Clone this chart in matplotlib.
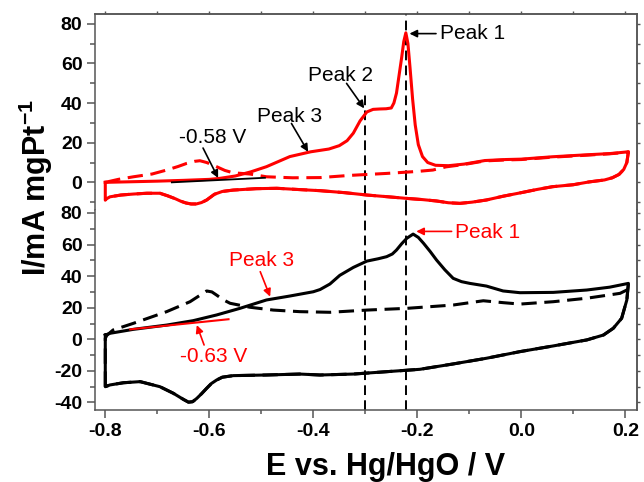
import numpy as np
import matplotlib
matplotlib.use('Agg')
import matplotlib.pyplot as plt
from matplotlib.ticker import MultipleLocator, NullFormatter

plt.rcParams['font.family'] = ['Liberation Sans', 'DejaVu Sans']
plt.rcParams['axes.unicode_minus'] = False
plt.rcParams['mathtext.fontset'] = 'custom'
plt.rcParams['mathtext.rm'] = 'Liberation Sans:bold'
plt.rcParams['mathtext.default'] = 'rm'

# ---- top panel (red): forward / reverse scans ----
top_fwd_E = [-0.8, -0.75, -0.7, -0.65, -0.6, -0.58, -0.55, -0.52, -0.49, -0.445, -0.405,
             -0.37, -0.35, -0.335, -0.323, -0.31, -0.297, -0.285, -0.272, -0.26, -0.25,
             -0.245, -0.24, -0.235, -0.23, -0.226, -0.222, -0.218, -0.214, -0.209, -0.204,
             -0.198, -0.19, -0.18, -0.165, -0.14, -0.11, -0.07, -0.03, 0.0, 0.06, 0.12,
             0.17, 0.206]
top_fwd_I = [0, 0.3, 0.6, 1.0, 1.5, 2.0, 3.2, 5.3, 7.9, 13, 15.4,
             16.8, 18.5, 21, 24.8, 31, 35.5, 36.8, 37.0, 37.1, 37.5,
             40, 45, 54, 63, 71, 75.4, 70, 58, 42, 29,
             19, 13, 10, 8.6, 8.4, 9.2, 11, 11.5, 11.7, 12.9, 13.8,
             14.5, 15.4]
top_rev_E = [0.206, 0.203, 0.197, 0.188, 0.175, 0.16, 0.13, 0.1, 0.06, 0.03, 0.0, -0.035,
             -0.067, -0.095, -0.118, -0.14, -0.163, -0.19, -0.22, -0.26, -0.297, -0.34,
             -0.387, -0.43, -0.47, -0.51, -0.554, -0.575, -0.59, -0.605, -0.615, -0.625,
             -0.635, -0.645, -0.655, -0.665, -0.68, -0.695, -0.72, -0.746, -0.77, -0.791,
             -0.799, -0.8]
top_rev_I = [15.4, 10, 6.5, 4, 2.3, 1.2, 0.2, -1.2, -2.2, -3.6, -5.2, -7,
             -8.9, -10, -10.6, -10.3, -9.4, -8.7, -8.1, -7.2, -6.4, -5.2,
             -4.2, -3.6, -3.0, -3.2, -3.9, -4.6, -6, -8.9, -10.2, -10.9,
             -10.9, -10.4, -9.5, -8.3, -6.8, -5.5, -5.5, -5.9, -6.4, -7.3,
             -8.5, -9]
top_dash_E = [-0.8, -0.775, -0.746, -0.71, -0.682, -0.66, -0.643, -0.628, -0.618, -0.605,
              -0.586, -0.57, -0.554, -0.522, -0.49, -0.44, -0.387, -0.33, -0.259, -0.2,
              -0.17, -0.145, -0.11, -0.07, -0.03, 0.0, 0.06, 0.12, 0.17, 0.206]
top_dash_I = [0, 1.5, 2.8, 4.2, 6.2, 8, 9.6, 10.6, 10.9, 10,
              7.9, 6, 4.8, 4.2, 2.8, 2.3, 2.4, 3.5, 4.5, 5.5,
              6.2, 7.8, 9.0, 10.8, 11.3, 11.5, 12.7, 13.6, 14.4, 15.2]

# ---- bottom panel (black) ----
bot_fwd_E = [-0.8, -0.791, -0.746, -0.682, -0.631, -0.586, -0.541, -0.49, -0.445, -0.4,
             -0.387, -0.368, -0.349, -0.323, -0.297, -0.275, -0.259, -0.248, -0.24, -0.23,
             -0.22, -0.208, -0.198, -0.188, -0.175, -0.163, -0.147, -0.131, -0.115, -0.099,
             -0.067, -0.035, -0.0025, 0.0615, 0.126, 0.17, 0.206]
bot_fwd_I = [2.7, 3.8, 6.3, 9, 11.8, 15.4, 19.6, 24.9, 27.4, 30.1,
             31.5, 35, 40.5, 45.5, 49.5, 51, 52.3, 54, 56.5, 60.5,
             64, 66.6, 64.5, 60.8, 55.5, 50.2, 44, 38.6, 36.5, 35.4,
             33.7, 30.6, 29.5, 29.7, 31.2, 33, 35.4]
bot_rev_E = [0.206, 0.203, 0.193, 0.177, 0.158, 0.126, 0.0615, -0.0025, -0.067, -0.131,
             -0.195, -0.259, -0.323, -0.387, -0.426, -0.49, -0.554, -0.575, -0.586, -0.596,
             -0.605, -0.615, -0.624, -0.632, -0.64, -0.65, -0.669, -0.695, -0.733, -0.765,
             -0.791, -0.8]
bot_rev_I = [35.4, 24.9, 13.3, 7, 2.7, -0.4, -4.2, -7.8, -12, -15.6,
             -19, -20.5, -22, -22.6, -22, -22.6, -23, -24, -25.8, -28,
             -31, -34.5, -37.4, -39.5, -39.8, -38, -34.2, -30, -26.8, -27.5,
             -28.9, -30]
bot_dash_E = [-0.8, -0.8, -0.797, -0.785, -0.746, -0.682, -0.637, -0.615, -0.605, -0.595,
              -0.586, -0.573, -0.56, -0.522, -0.477, -0.426, -0.368, -0.297, -0.22, -0.131,
              -0.073, -0.035, -0.0025, 0.0615, 0.126, 0.19, 0.206]
bot_dash_I = [-30, 0.6, 2.5, 5.9, 10.1, 17.5, 23.8, 28.5, 30.6, 30,
              28, 25, 22.8, 20.3, 18.5, 17.5, 17.1, 18.5, 19.6, 21.7,
              24.4, 23.2, 22.3, 23.8, 26, 29.1, 31.7]

peak_E = [-0.3, -0.222]          # vertical guide lines
peak2_top = 45                   # where the Peak 2 guide starts in the top panel

RED = '#ff0000'
SPINE = '#555555'
LW = 2.2
DASH = (5, 2.5)

fig = plt.figure(figsize=(6.44, 4.82), dpi=100)
ax_t = fig.add_axes([0.1475, 0.5643, 0.8416, 0.4067])
ax_b = fig.add_axes([0.1475, 0.1494, 0.8416, 0.4149])

XLIM = (-0.8198, 0.2225)

# top curves
ax_t.plot(top_fwd_E + top_rev_E + top_fwd_E[:1], top_fwd_I + top_rev_I + top_fwd_I[:1],
          color=RED, lw=LW, solid_joinstyle='round', zorder=3)
ax_t.plot(top_dash_E + top_rev_E, top_dash_I + top_rev_I, color=RED, lw=LW,
          ls=(0, DASH), zorder=3)
ax_t.plot([-0.672, -0.493], [0, 2.3], color='k', lw=1.3, zorder=4)

# bottom curves
ax_b.plot(bot_fwd_E + bot_rev_E + bot_fwd_E[:1], bot_fwd_I + bot_rev_I + bot_fwd_I[:1],
          color='k', lw=LW, solid_joinstyle='round', zorder=3)
ax_b.plot(bot_dash_E + bot_rev_E, bot_dash_I + bot_rev_I, color='k', lw=LW,
          ls=(0, DASH), zorder=3)
ax_b.plot([-0.752, -0.563], [6.3, 12.7], color=RED, lw=1.5, zorder=4)

# limits
ax_t.set_xlim(*XLIM)
ax_b.set_xlim(*XLIM)
ax_t.set_ylim(-13.95, 84.9)
ax_b.set_ylim(-44.75, 81.85)

# vertical guides
vl = dict(color='k', lw=1.4, ls=(0, (5, 2.7)), zorder=2)
ax_t.vlines(peak_E[1], -13.95, 84.9, **vl)
ax_t.vlines(peak_E[0], -13.95, peak2_top, **vl)
ax_b.vlines(peak_E, -44.75, 81.85, **vl)

# annotations
txt = dict(fontsize=15, va='center')
arr_k = dict(arrowstyle='-|>', color='k', lw=1.2, shrinkA=0, shrinkB=0, mutation_scale=11)
arr_r = dict(arr_k, color=RED)

ax_t.text(-0.156, 75, 'Peak 1', ha='left', **txt)
ax_t.annotate('', xy=(-0.215, 75), xytext=(-0.164, 75), arrowprops=arr_k)
ax_t.text(-0.347, 54, 'Peak 2', ha='center', **txt)
ax_t.annotate('', xy=(-0.302, 37.3), xytext=(-0.336, 49.9), arrowprops=arr_k)
ax_t.text(-0.445, 33, 'Peak 3', ha='center', **txt)
ax_t.annotate('', xy=(-0.41, 15.4), xytext=(-0.442, 29.7), arrowprops=arr_k)
ax_t.text(-0.593, 22.8, '-0.58 V', ha='center', **txt)
ax_t.annotate('', xy=(-0.583, 2.2), xytext=(-0.612, 17.3), arrowprops=arr_k)

ax_b.text(-0.128, 67.5, 'Peak 1', ha='left', color=RED, **txt)
ax_b.annotate('', xy=(-0.202, 68.3), xytext=(-0.134, 68.3), arrowprops=arr_r)
ax_b.text(-0.499, 50.2, 'Peak 3', ha='center', color=RED, **txt)
ax_b.annotate('', xy=(-0.483, 27), xytext=(-0.502, 42.8), arrowprops=arr_r)
ax_b.text(-0.592, -11, '-0.63 V', ha='center', color=RED, **txt)
ax_b.annotate('', xy=(-0.624, 9), xytext=(-0.61, -3.6), arrowprops=arr_r)

# frame / ticks
for ax in (ax_t, ax_b):
    for s in ax.spines.values():
        s.set_color(SPINE)
        s.set_linewidth(1.1)
    ax.yaxis.set_major_locator(MultipleLocator(20))
    ax.yaxis.set_minor_locator(MultipleLocator(10))
    ax.xaxis.set_major_locator(MultipleLocator(0.2))
    ax.xaxis.set_minor_locator(MultipleLocator(0.1))
    ax.tick_params(axis='y', which='major', direction='out', length=6, width=1.1,
                   color=SPINE, pad=3, labelsize=14)
    ax.tick_params(axis='y', which='minor', direction='out', length=3.5, width=1.1, color=SPINE)
    for lab in ax.get_yticklabels():
        lab.set_fontweight('bold')
    sec = ax.secondary_yaxis('right')
    sec.yaxis.set_major_locator(MultipleLocator(10))
    sec.yaxis.set_major_formatter(NullFormatter())
    sec.tick_params(direction='out', length=2.2, width=1.0, color=SPINE)
    sec.spines['right'].set_color(SPINE)
    sec.spines['right'].set_linewidth(1.1)

ax_t.spines['bottom'].set_visible(False)
ax_b.spines['top'].set_visible(False)
ax_t.tick_params(axis='x', which='both', bottom=False, labelbottom=False)
sec_x = ax_t.secondary_xaxis('top')
sec_x.xaxis.set_major_locator(MultipleLocator(0.1))
sec_x.xaxis.set_major_formatter(NullFormatter())
sec_x.tick_params(direction='out', length=2.2, width=1.0, color=SPINE)
sec_x.spines['top'].set_color(SPINE)
sec_x.spines['top'].set_linewidth(1.1)

ax_b.tick_params(axis='x', which='major', direction='out', length=5.5, width=1.1,
                 color=SPINE, pad=4, labelsize=14)
ax_b.tick_params(axis='x', which='minor', direction='out', length=3, width=1.1, color=SPINE)
for lab in ax_b.get_xticklabels():
    lab.set_fontweight('bold')
ax_b.set_xticks([-0.8, -0.6, -0.4, -0.2, 0.0, 0.2])
ax_b.set_xticklabels(['-0.8', '-0.6', '-0.4', '-0.2', '0.0', '0.2'], fontweight='bold')

fig.text(0.598, 0.0145, 'E vs. Hg/HgO / V', fontsize=22, fontweight='bold',
         ha='center', va='baseline')
fig.text(0.056, 0.611, 'I/mA mgPt$^{-1}$', fontsize=22, fontweight='bold',
         rotation=90, ha='center', va='center')

fig.savefig('out.png', dpi=100)
